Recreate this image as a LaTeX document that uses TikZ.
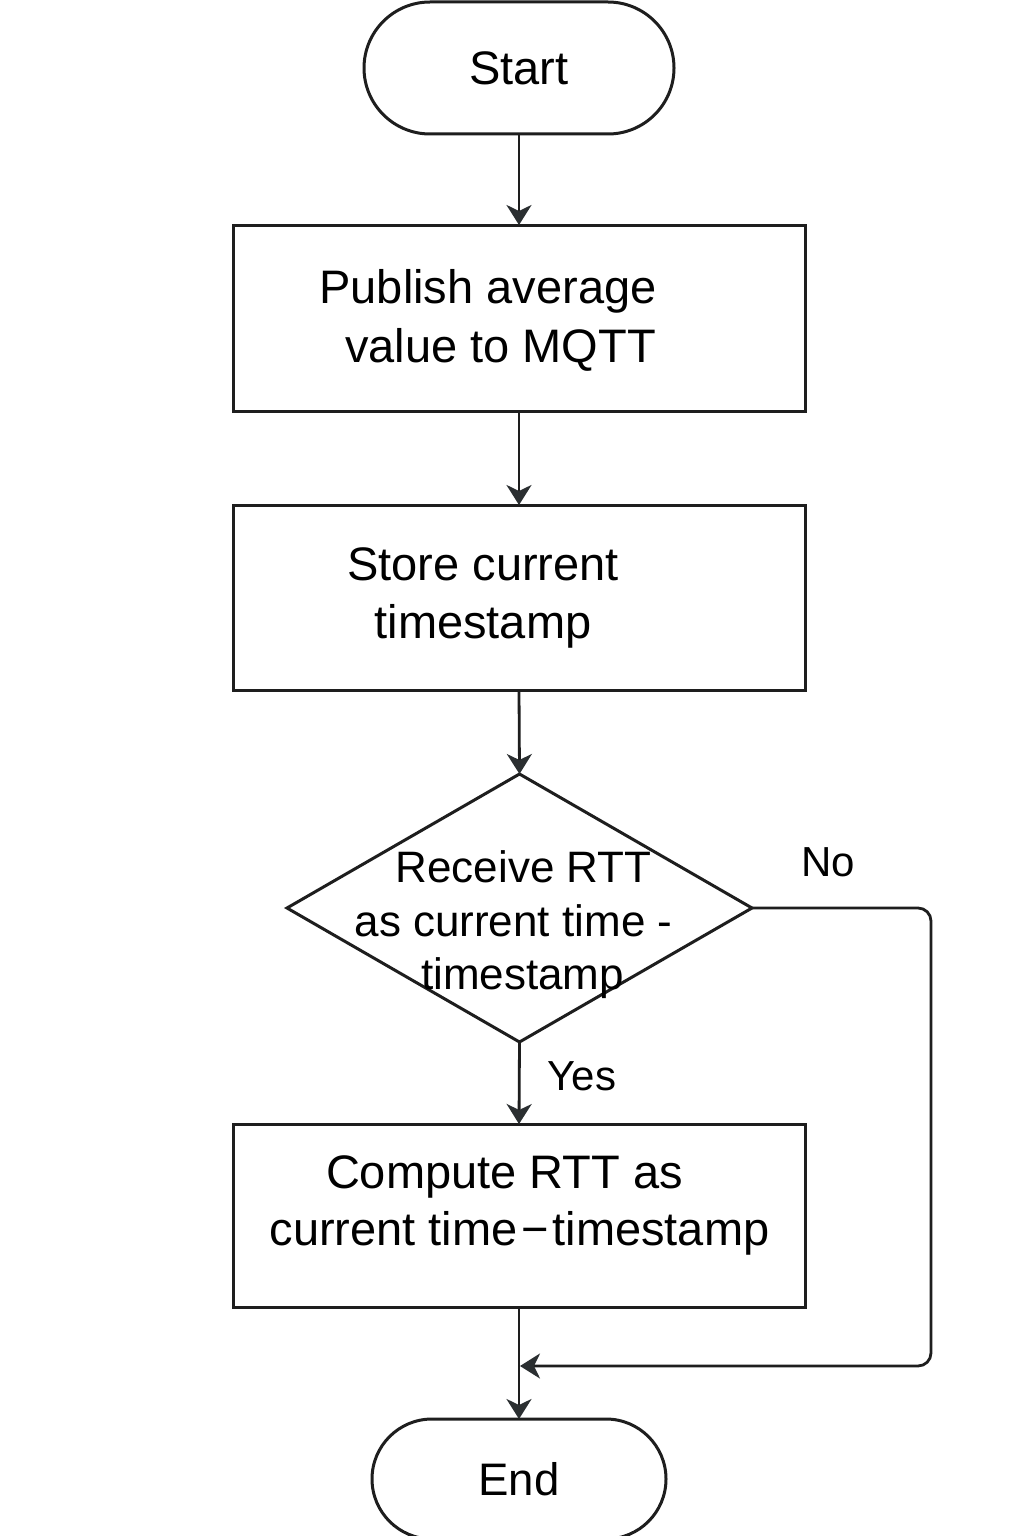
\documentclass[tikz,border=0pt]{standalone}
\usepackage{fontspec}
\setmainfont{Liberation Sans}
\usetikzlibrary{shapes.geometric,shapes.misc,arrows.meta}
\definecolor{ink}{HTML}{1E1E1E}
\definecolor{tipc}{HTML}{2B2F31}
\begin{document}
\begin{tikzpicture}[x=0.5pt,y=-0.5pt,
  shapeline/.style={draw=ink, line width=1.5pt, fill=white, inner sep=0pt, outer sep=0pt},
  terminal/.style={shapeline, rounded rectangle},
  procbox/.style={shapeline, rectangle, minimum width=286pt},
  decision/.style={shapeline, diamond, minimum width=232.5pt, minimum height=134pt},
  boxtext/.style={anchor=base, inner sep=0pt, text=black, font=\fontsize{23.5pt}{29pt}\selectfont},
  dectext/.style={anchor=base, inner sep=0pt, text=black, font=\fontsize{22pt}{27pt}\selectfont},
  lbl/.style={anchor=base, inner sep=0pt, text=black, font=\fontsize{21pt}{25pt}\selectfont},
  conn/.style={draw=ink, line width=1.4pt, -{Stealth[length=10pt,width=12.5pt,inset=3pt,color=tipc]}}
]
\useasboundingbox (0,0) rectangle (1024,1536);
\fill[white] (0,0) rectangle (1024,1536);

% shapes
\node[terminal, minimum width=155pt, minimum height=66pt, font=\fontsize{23.5pt}{28pt}\selectfont] (start) at (519,68) {Start};
\node[procbox, minimum height=93pt] (b1) at (519,318) {};
\node[procbox, minimum height=92.5pt] (b2) at (519,597.5) {};
\node[decision] (dec) at (519.5,908) {};
\node[procbox, minimum height=91.5pt] (b3) at (519,1215.5) {};
\node[terminal, minimum width=147pt, minimum height=60pt, font=\fontsize{22.8pt}{27pt}\selectfont] (end) at (519,1479) {End};

% texts
\node[boxtext] (b1a) at (488,303) {Publish average};
\node[boxtext] (b1b) at (500.5,362) {value to MQTT};
\node[boxtext] (b2a) at (483,580) {Store current};
\node[boxtext] (b2b) at (483,638) {timestamp};
\node[dectext] (deca) at (523.5,882) {Receive RTT};
\node[dectext] (decb) at (513.5,936) {as current time -};
\node[dectext] (decc) at (522.5,989) {timestamp};
\node[boxtext] (b3a) at (504.5,1188) {Compute RTT as};
\node[boxtext] (b3b) at (519.5,1245) {current time\kern0.08em−\kern0.08em timestamp};

% labels
\node[lbl] (yes) at (582,1090) {Yes};
\node[lbl] (no) at (828.5,876) {No};

% connectors
\coordinate (noturn) at (931,1366);
\coordinate (join) at (520,1366);
\draw[conn] (start.south) -- (b1.north);
\draw[conn] (b1.south) -- (b2.north);
\draw[conn] (b2.south) -- (dec.north);
\draw[conn] (dec.south) -- (b3.north);
\draw[conn] (b3.south) -- (end.north);
\draw[conn, rounded corners=6.5pt] (dec.east) -- (dec.east -| noturn) -- (noturn) -- (join);
\end{tikzpicture}
\end{document}
